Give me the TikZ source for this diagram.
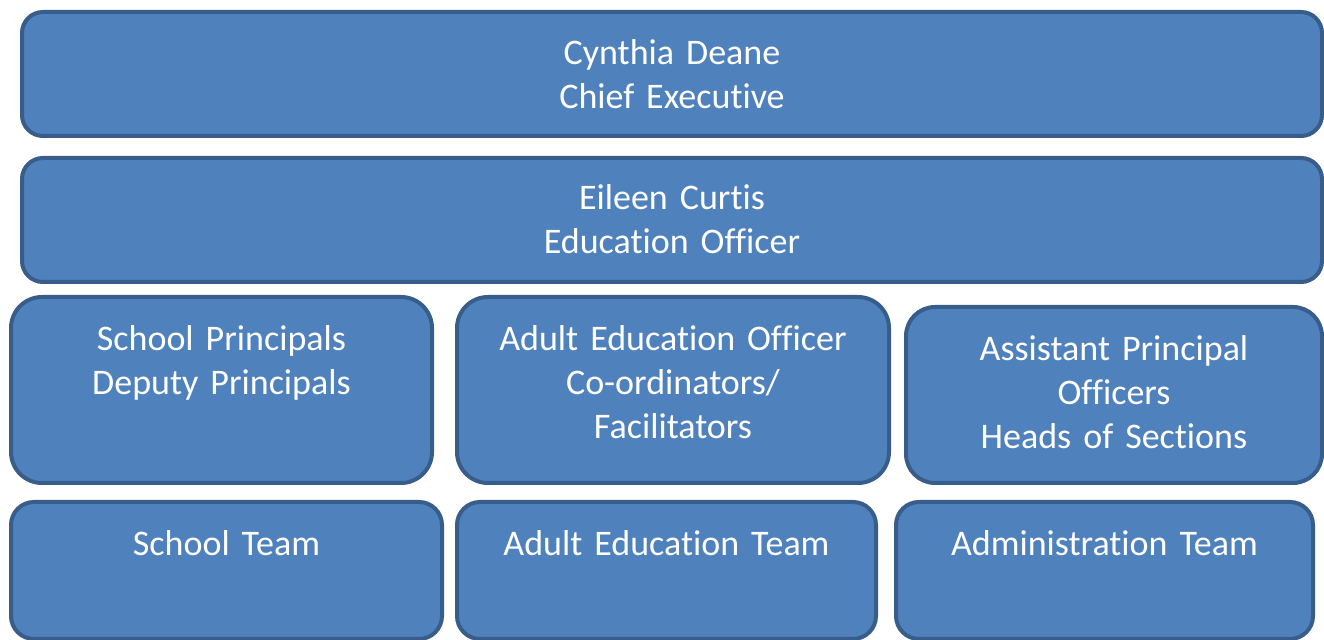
\documentclass[tikz,border=0pt]{standalone}
\usepackage{fontspec}
\setmainfont{Carlito}[Ligatures=NoCommon]
\usetikzlibrary{positioning}
\definecolor{orgfill}{RGB}{79,129,189}
\definecolor{orgline}{RGB}{56,93,138}

\tikzset{
    orgbox/.style={rectangle, draw=orgline, fill=orgfill, line width=2pt,
        rounded corners=#1, anchor=north west, inner sep=0pt},
    orgtext/.style={text=white, font=\fontsize{18}{22}\selectfont, align=center,
        anchor=base, inner sep=0pt, text width=#1}
}

\begin{document}
\begin{tikzpicture}[x=0.5pt, y=-0.5pt]
    \useasboundingbox (0,0) rectangle (1324,640);

    % Top of the chart
    \node[orgbox=10.5pt, minimum width=650pt, minimum height=62pt] (chief) at (20,10) {};
    \node[orgtext=600pt] (chieftext) at ([yshift=-27.5pt]chief.north) {Cynthia Deane\\Chief Executive};

    \node[orgbox=10.5pt, minimum width=650pt, minimum height=62pt] (eduofficer) at (20,156) {};
    \node[orgtext=600pt] (eduofficertext) at ([yshift=-27pt]eduofficer.north) {Eileen Curtis\\Education Officer};

    % Managers
    \node[orgbox=15.5pt, minimum width=210.5pt, minimum height=93pt] (principals) at (9,295) {};
    \node[orgtext=200pt] (principalstext) at ([yshift=-28pt]principals.north) {School Principals\\Deputy Principals};

    \node[orgbox=15.5pt, minimum width=216pt, minimum height=93pt] (adultofficer) at (455,295) {};
    \node[orgtext=200pt] (adultofficertext) at ([yshift=-28pt]adultofficer.north) {Adult Education Officer\\Co-ordinators/\\Facilitators};

    \node[orgbox=14.5pt, minimum width=208pt, minimum height=88pt] (assistant) at (904,305) {};
    \node[orgtext=200pt] (assistanttext) at ([yshift=-28pt]assistant.north) {Assistant Principal\\Officers\\Heads of Sections};

    % Teams
    \node[orgbox=11.5pt, minimum width=215.5pt, minimum height=68.5pt] (schoolteam) at (9,500) {};
    \node[orgtext=200pt] (schoolteamtext) at ([yshift=-28pt]schoolteam.north) {School Team};

    \node[orgbox=11.5pt, minimum width=209.5pt, minimum height=68.5pt] (adultteam) at (455,500) {};
    \node[orgtext=200pt] (adultteamtext) at ([yshift=-28pt]adultteam.north) {Adult Education Team};

    \node[orgbox=11.5pt, minimum width=208.5pt, minimum height=68.5pt] (adminteam) at (894,500) {};
    \node[orgtext=200pt] (adminteamtext) at ([yshift=-28pt]adminteam.north) {Administration Team};
\end{tikzpicture}
\end{document}
